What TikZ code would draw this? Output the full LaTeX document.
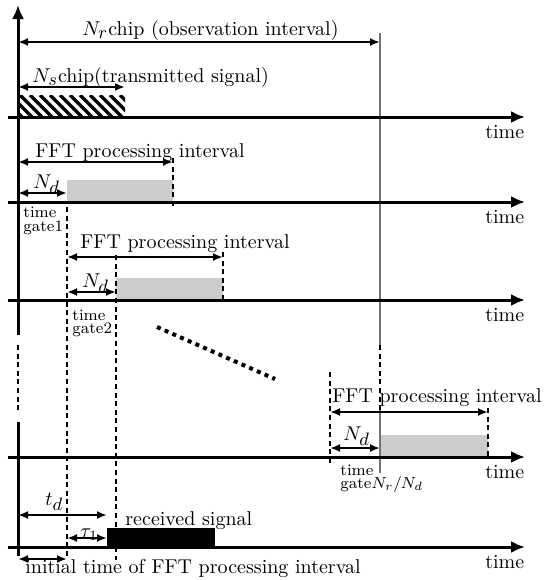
\documentclass[tikz,border=0pt]{standalone}
\usetikzlibrary{arrows.meta}
\newcommand\bigsub[2]{#1_{\hbox{\small$#2$}}}
\begin{document}
\begin{tikzpicture}[x=0.5pt,y=-0.5pt,
  axisline/.style={line width=1.5pt,-{Latex[length=7pt,width=6pt]}},
  dim/.style={line width=1pt,{Latex[length=5pt,width=4pt]}-{Latex[length=5pt,width=4pt]}},
  gatedash/.style={line width=1pt,dash pattern=on 2.5pt off 1.8pt},
  refline/.style={line width=1pt,draw=black!55},
  lbl/.style={inner sep=0pt,anchor=base west},
  small/.style={inner sep=0pt,anchor=base west,font=\footnotesize}]
\path[use as bounding box] (0,0) rectangle (553,580);

% ---------- coordinates ----------
\coordinate (top) at (18,5);
\coordinate (vA) at (18,335);
\coordinate (vB) at (18,345);
\coordinate (vC) at (18,410);
\coordinate (vD) at (18,422);
\coordinate (vE) at (18,556);
\foreach \n/\y in {1/117,2/202,3/300,4/457,5/547}{
  \coordinate (a\n s) at (8,\y);
  \coordinate (a\n e) at (525,\y);
}

% ---------- fills ----------
\fill[gray!40] (67,180) rectangle (173,202);
\fill[gray!40] (116,278) rectangle (223,300);
\fill[gray!40] (380,435) rectangle (488,457);
\fill[black] (107,528) rectangle (215,547);
\begin{scope}
  \clip (18,95) rectangle (125,117);
  \foreach \x in {-30,-20,...,130} \draw[line width=1.6pt] (\x,95) -- (\x+22,117);
\end{scope}

% ---------- reference line at N_r ----------
\coordinate (g1) at (380,33);
\coordinate (g2) at (380,345);
\coordinate (g3) at (380,410);
\coordinate (g4) at (380,473);
\draw[refline] (g1) -- (g2);
\draw[gatedash] (g2) -- (g3);
\draw[refline] (g3) -- (g4);

% ---------- gate dashed lines ----------
\coordinate (d1a) at (173,158); \coordinate (d1b) at (173,206);
\coordinate (d2a) at (223,252); \coordinate (d2b) at (223,302);
\coordinate (d3a) at (488,408); \coordinate (d3b) at (488,459);
\coordinate (d4a) at (67,207);  \coordinate (d4b) at (67,558);
\coordinate (d5a) at (116,255); \coordinate (d5b) at (116,560);
\coordinate (d6a) at (330,372); \coordinate (d6b) at (330,465);
\foreach \p in {1,...,6} \draw[gatedash] (d\p a) -- (d\p b);

% ---------- main axes ----------
\draw[axisline] (vA) -- (top);
\draw[gatedash] (vB) -- (vC);
\draw[line width=1.5pt] (vD) -- (vE);
\foreach \n in {1,...,5}{
  \draw[axisline] (a\n s) -- (a\n e);
}
\foreach \n/\y in {1/138,2/223,3/321,4/478,5/568}{
  \node[lbl] (time\n) at (485,\y) {time};
}

% ---------- dimension arrows ----------
\coordinate (nr0) at (18,42);  \coordinate (nr1) at (380,42);
\coordinate (ns0) at (18,87);  \coordinate (ns1) at (125,87);
\coordinate (f10) at (18,162); \coordinate (f11) at (173,162);
\coordinate (n10) at (18,193); \coordinate (n11) at (67,193);
\coordinate (f20) at (67,257); \coordinate (f21) at (223,257);
\coordinate (n20) at (67,292); \coordinate (n21) at (116,292);
\coordinate (f30) at (330,412); \coordinate (f31) at (488,412);
\coordinate (n30) at (330,448); \coordinate (n31) at (380,448);
\coordinate (td0) at (18,515); \coordinate (td1) at (107,515);
\coordinate (ta0) at (67,538); \coordinate (ta1) at (107,538);
\coordinate (it0) at (18,559); \coordinate (it1) at (67,559);
\foreach \p in {nr,ns,f1,n1,f2,n2,f3,n3,td,ta,it} \draw[dim] (\p0) -- (\p1);

% ---------- labels ----------
\node[lbl] (lnr) at (82,35) {$\bigsub{N}{r}$chip (observation interval)};
\node[lbl] (lns) at (32,82) {$\bigsub{N}{s}$chip(transmitted signal)};
\node[lbl] (lf1) at (35,157) {FFT processing interval};
\node[lbl] (lf2) at (80,248) {FFT processing interval};
\node[lbl] (lf3) at (332,402) {FFT processing interval};
\node[lbl] (ln1) at (33,188) {$\bigsub{N}{d}$};
\node[lbl] (ln2) at (82,287) {$\bigsub{N}{d}$};
\node[lbl] (ln3) at (343,440) {$\bigsub{N}{d}$};
\node[small] (tg1) at (23,217) {time};
\node[small] (gg1) at (23,231) {gate1};
\node[small] (tg2) at (72,320) {time};
\node[small] (gg2) at (72,333) {gate2};
\node[small] (tg3) at (340,475) {time};
\node[small] (gg3) at (340,488) {gate$N_r/N_d$};
\node[lbl] (ltd) at (45,505) {$\bigsub{t}{d}$};
\node[lbl] (lta) at (80,537) {$\tau_1$};
\node[lbl] (lrs) at (125,525) {received signal};
\node[lbl] (lit) at (25,573) {initial time of FFT processing interval};

% ---------- ellipsis ----------
\coordinate (e0) at (157,327);
\coordinate (e1) at (275,379);
\draw[line width=2pt,dash pattern=on 2pt off 2.2pt] (e0) -- (e1);
\end{tikzpicture}
\end{document}
